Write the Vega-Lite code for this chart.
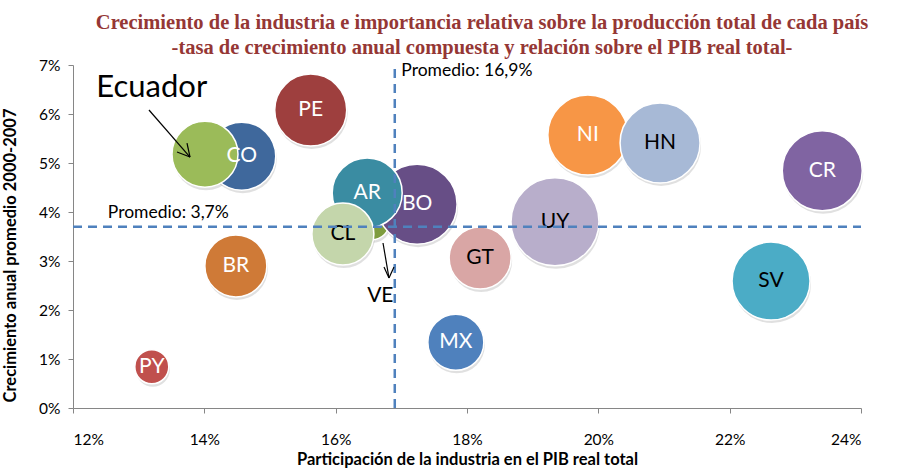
{
  "$schema": "https://vega.github.io/schema/vega-lite/v6.json",
  "width": 788,
  "height": 343,
  "autosize": {"type": "none"},
  "padding": {"left": 73, "top": 65, "right": 38, "bottom": 63},
  "background": "white",
  "config": {"view": {"stroke": null}, "font": "Lato"},
  "title": {
    "text": ["Crecimiento de la industria e importancia relativa sobre la producción total de cada país", "-tasa de crecimiento anual compuesta y relación sobre el PIB real total-"],
    "font": "Liberation Serif",
    "fontSize": 20.5,
    "fontWeight": "bold",
    "color": "#953735",
    "lineHeight": 25,
    "anchor": "middle",
    "frame": "group",
    "offset": 0,
    "dx": 15
  },
  "datasets": {
    "paises": [
      {"pais": "PY", "etiqueta": "PY", "participacion": 13.2, "crecimiento": 0.84, "tamano": 289},
      {"pais": "BR", "etiqueta": "BR", "participacion": 14.48, "crecimiento": 2.9, "tamano": 961},
      {"pais": "CO", "etiqueta": "CO", "participacion": 14.57, "crecimiento": 5.14, "tamano": 1156},
      {"pais": "EC", "etiqueta": "", "participacion": 14.01, "crecimiento": 5.18, "tamano": 1089},
      {"pais": "PE", "etiqueta": "PE", "participacion": 15.62, "crecimiento": 6.08, "tamano": 1296},
      {"pais": "VE", "etiqueta": "", "participacion": 16.55, "crecimiento": 3.8, "tamano": 324},
      {"pais": "BO", "etiqueta": "BO", "participacion": 17.24, "crecimiento": 4.16, "tamano": 1600},
      {"pais": "AR", "etiqueta": "AR", "participacion": 16.48, "crecimiento": 4.39, "tamano": 1225},
      {"pais": "CL", "etiqueta": "CL", "participacion": 16.11, "crecimiento": 3.55, "tamano": 961},
      {"pais": "GT", "etiqueta": "GT", "participacion": 18.2, "crecimiento": 3.06, "tamano": 961},
      {"pais": "UY", "etiqueta": "UY", "participacion": 19.34, "crecimiento": 3.8, "tamano": 1936},
      {"pais": "NI", "etiqueta": "NI", "participacion": 19.84, "crecimiento": 5.57, "tamano": 1600},
      {"pais": "HN", "etiqueta": "HN", "participacion": 20.94, "crecimiento": 5.41, "tamano": 1600},
      {"pais": "CR", "etiqueta": "CR", "participacion": 23.41, "crecimiento": 4.84, "tamano": 1600},
      {"pais": "SV", "etiqueta": "SV", "participacion": 22.63, "crecimiento": 2.59, "tamano": 1521},
      {"pais": "MX", "etiqueta": "MX", "participacion": 17.83, "crecimiento": 1.34, "tamano": 784}
    ],
    "promedioX": [{"participacion": 16.9, "y0": 0, "y1": 7}],
    "promedioY": [{"crecimiento": 3.7, "x0": 12, "x1": 24}],
    "notaGrande": [
      {"texto": "Ecuador", "participacion": 13.2, "crecimiento": 6.53}
    ],
    "notaMedia": [
      {"texto": "VE", "participacion": 16.68, "crecimiento": 2.29}
    ],
    "promedios": [
      {"texto": "Promedio: 16,9%", "participacion": 17.0, "crecimiento": 6.88},
      {"texto": "Promedio: 3,7%", "participacion": 12.53, "crecimiento": 3.98}
    ],
    "flechas": [
      {"x": 13.157, "y": 6.082, "x2": 13.782, "y2": 5.122},
      {"x": 13.584, "y": 5.224, "x2": 13.782, "y2": 5.122},
      {"x": 13.736, "y": 5.408, "x2": 13.782, "y2": 5.122},
      {"x": 16.721, "y": 3.367, "x2": 16.812, "y2": 2.653},
      {"x": 16.736, "y": 2.878, "x2": 16.812, "y2": 2.653},
      {"x": 16.888, "y": 2.878, "x2": 16.812, "y2": 2.653}
    ]
  },
  "layer": [
    {
      "data": {"name": "paises"},
      "mark": {"type": "circle", "color": "#000000", "opacity": 0.12, "yOffset": 3, "xOffset": 1},
      "encoding": {
        "x": {
          "field": "participacion", "type": "quantitative",
          "scale": {"domain": [12, 24], "nice": false, "zero": false},
          "axis": {
            "title": "Participación  de la industria en el PIB real total",
            "values": [12, 14, 16, 18, 20, 22, 24],
            "labelExpr": "datum.value + '%'",
            "grid": false,
            "domainColor": "#868686",
            "tickColor": "#868686",
            "tickSize": 5,
            "labelPadding": 19,
            "labelFontSize": 15.5,
            "labelColor": "#000000",
            "labelFont": "Lato",
            "titleFont": "Lato",
            "titleFontSize": 16.5,
            "titleFontWeight": "bold",
            "titleColor": "#000000",
            "titlePadding": 4
          }
        },
        "y": {
          "field": "crecimiento", "type": "quantitative",
          "scale": {"domain": [0, 7], "nice": false},
          "axis": {
            "title": "Crecimiento anual  promedio 2000-2007",
            "values": [0, 1, 2, 3, 4, 5, 6, 7],
            "labelExpr": "datum.value + '%'",
            "grid": false,
            "domainColor": "#868686",
            "tickColor": "#868686",
            "tickSize": 5,
            "labelPadding": 8,
            "labelFontSize": 15.5,
            "labelColor": "#000000",
            "labelFont": "Lato",
            "titleFont": "Lato",
            "titleFontSize": 16.5,
            "titleFontWeight": "bold",
            "titleColor": "#000000",
            "titleX": -55,
            "titleY": 190
          }
        },
        "size": {
          "field": "tamano", "type": "quantitative",
          "scale": {"type": "linear", "domain": [0, 2000], "range": [0, 8000], "zero": true},
          "legend": null
        }
      }
    },
    {
      "data": {"name": "paises"},
      "mark": {"type": "circle", "opacity": 1, "stroke": "white", "strokeWidth": 1.5},
      "encoding": {
        "x": {"field": "participacion", "type": "quantitative"},
        "y": {"field": "crecimiento", "type": "quantitative"},
        "size": {
          "field": "tamano", "type": "quantitative",
          "scale": {"type": "linear", "domain": [0, 2000], "range": [0, 8000], "zero": true},
          "legend": null
        },
        "color": {
          "field": "pais", "type": "nominal",
          "scale": {
            "domain": ["PY", "BR", "CO", "EC", "PE", "VE", "BO", "AR", "CL", "GT", "UY", "NI", "HN", "CR", "SV", "MX"],
            "range": ["#C0504D", "#CF7A37", "#3F689C", "#9BBB59", "#9E3F3E", "#7E9C3E", "#674E86", "#3A8CA2", "#C4D6AB", "#D9A6A5", "#B8AECB", "#F79646", "#A7B9D6", "#8064A2", "#4BACC6", "#4F81BD"]
          },
          "legend": null
        }
      }
    },
    {
      "data": {"name": "paises"},
      "mark": {"type": "text", "font": "Lato", "fontSize": 21, "align": "center", "baseline": "middle"},
      "encoding": {
        "x": {"field": "participacion", "type": "quantitative"},
        "y": {"field": "crecimiento", "type": "quantitative"},
        "text": {"field": "etiqueta"},
        "color": {
          "condition": {"test": "indexof(['CL','GT','UY','HN','SV'], datum.pais) >= 0", "value": "#000000"},
          "value": "#FFFFFF"
        }
      }
    },
    {
      "data": {"name": "promedioX"},
      "mark": {"type": "rule", "color": "#4F81BD", "strokeWidth": 2.5, "strokeDash": [9, 6]},
      "encoding": {
        "x": {"field": "participacion", "type": "quantitative"},
        "y": {"field": "y0", "type": "quantitative"},
        "y2": {"field": "y1"}
      }
    },
    {
      "data": {"name": "promedioY"},
      "mark": {"type": "rule", "color": "#4F81BD", "strokeWidth": 2.5, "strokeDash": [9, 6]},
      "encoding": {
        "y": {"field": "crecimiento", "type": "quantitative"},
        "x": {"field": "x0", "type": "quantitative"},
        "x2": {"field": "x1"}
      }
    },
    {
      "data": {"name": "flechas"},
      "mark": {"type": "rule", "color": "#000000", "strokeWidth": 1.2},
      "encoding": {
        "x": {"field": "x", "type": "quantitative"},
        "y": {"field": "y", "type": "quantitative"},
        "x2": {"field": "x2"},
        "y2": {"field": "y2"}
      }
    },
    {
      "data": {"name": "notaGrande"},
      "mark": {"type": "text", "font": "Lato", "fontSize": 31, "align": "center", "baseline": "middle", "color": "#000000"},
      "encoding": {
        "x": {"field": "participacion", "type": "quantitative"},
        "y": {"field": "crecimiento", "type": "quantitative"},
        "text": {"field": "texto"}
      }
    },
    {
      "data": {"name": "notaMedia"},
      "mark": {"type": "text", "font": "Lato", "fontSize": 21, "align": "center", "baseline": "middle", "color": "#000000"},
      "encoding": {
        "x": {"field": "participacion", "type": "quantitative"},
        "y": {"field": "crecimiento", "type": "quantitative"},
        "text": {"field": "texto"}
      }
    },
    {
      "data": {"name": "promedios"},
      "mark": {"type": "text", "font": "Lato", "fontSize": 17.5, "align": "left", "baseline": "middle", "color": "#000000"},
      "encoding": {
        "x": {"field": "participacion", "type": "quantitative"},
        "y": {"field": "crecimiento", "type": "quantitative"},
        "text": {"field": "texto"}
      }
    }
  ]
}
